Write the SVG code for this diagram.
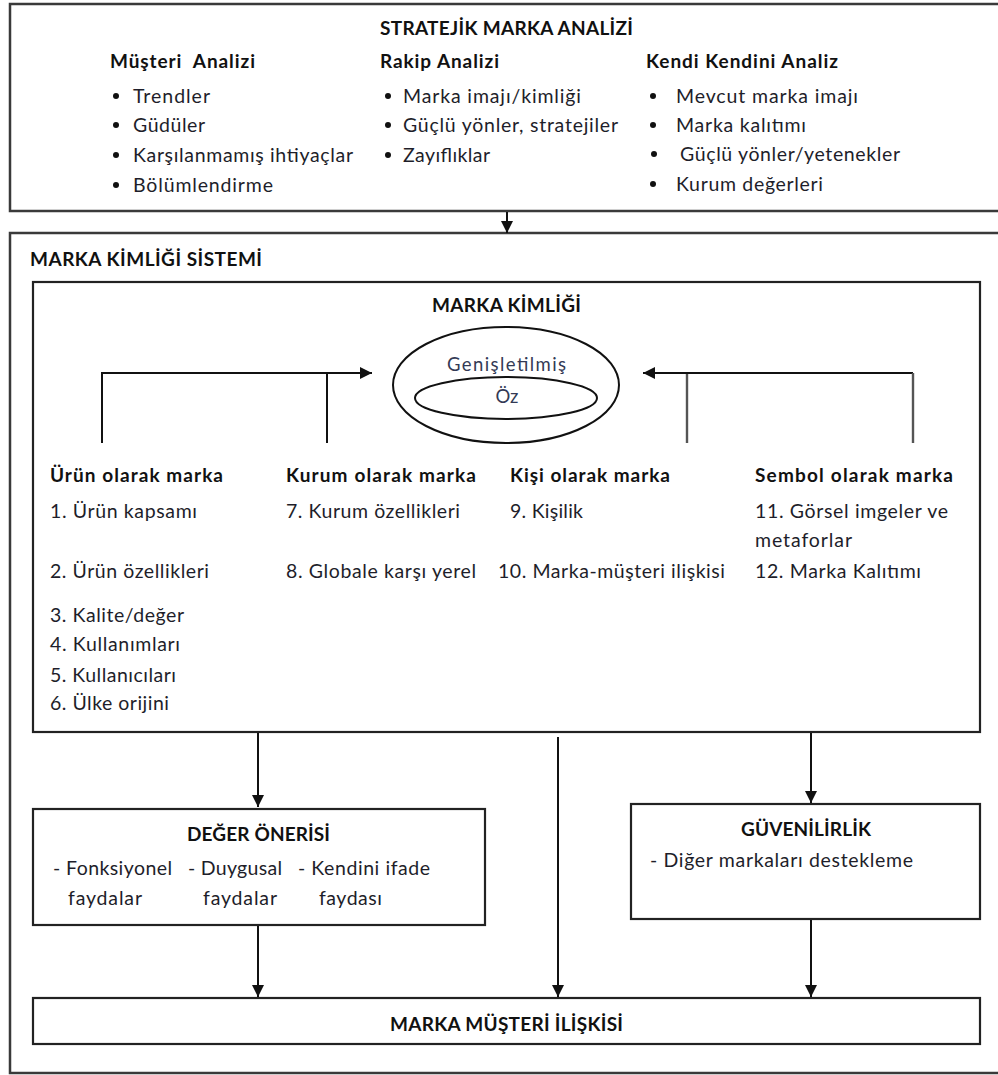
<svg xmlns="http://www.w3.org/2000/svg" width="998" height="1075" viewBox="0 0 998 1075">
  <style>
    .frame { fill: #fff; stroke: #3a3a3a; stroke-width: 2.5; }
    .box { fill: #fff; stroke: #222; stroke-width: 2.2; }
    .oval { fill: none; stroke: #111; stroke-width: 2; }
    .ln { fill: none; stroke: #111; stroke-width: 2; }
    .lng { fill: none; stroke: #555; stroke-width: 2.4; }
    text { font-family: Lato, "Open Sans", sans-serif; fill: #1e1e2a; }
    .h { font-weight: bold; font-size: 19px; fill: #111; }
    .t { font-size: 19.5px; }
    .s { font-size: 18.5px; fill: #333a55; }
    .bul { fill: #111; }
  </style>
  <defs>
    <marker id="arr" markerWidth="12" markerHeight="12" refX="12" refY="6" orient="auto" markerUnits="userSpaceOnUse">
      <path d="M0,0 L12,6 L0,12 Z" fill="#111"/>
    </marker>
  </defs>

  <rect width="998" height="1075" fill="#fff"/>

  <!-- Strategic brand analysis -->
  <g id="strategic-analysis">
    <rect class="frame" x="10" y="4" width="1000" height="207"/>
    <text class="h" x="380" y="35" textLength="253">STRATEJİK MARKA ANALİZİ</text>
    <text class="h" x="110" y="68" textLength="145" xml:space="preserve">Müşteri  Analizi</text>
    <text class="h" x="380" y="68" textLength="119">Rakip Analizi</text>
    <text class="h" x="646" y="68" textLength="192">Kendi Kendini Analiz</text>

    <circle class="bul" cx="116" cy="96" r="3"/>
    <circle class="bul" cx="116" cy="125" r="3"/>
    <circle class="bul" cx="116" cy="155" r="3"/>
    <circle class="bul" cx="116" cy="185" r="3"/>
    <text class="t" x="133" y="103" textLength="77">Trendler</text>
    <text class="t" x="133" y="132" textLength="72">Güdüler</text>
    <text class="t" x="133" y="162" textLength="220">Karşılanmamış ihtiyaçlar</text>
    <text class="t" x="133" y="192" textLength="140">Bölümlendirme</text>

    <circle class="bul" cx="388" cy="96" r="3"/>
    <circle class="bul" cx="388" cy="125" r="3"/>
    <circle class="bul" cx="388" cy="155" r="3"/>
    <text class="t" x="403" y="103" textLength="178">Marka imajı/kimliği</text>
    <text class="t" x="403" y="132" textLength="215">Güçlü yönler, stratejiler</text>
    <text class="t" x="403" y="162" textLength="87">Zayıflıklar</text>

    <circle class="bul" cx="653" cy="96" r="3"/>
    <circle class="bul" cx="653" cy="125" r="3"/>
    <circle class="bul" cx="654" cy="154" r="3"/>
    <circle class="bul" cx="653" cy="184" r="3"/>
    <text class="t" x="676" y="103" textLength="182">Mevcut marka imajı</text>
    <text class="t" x="676" y="132" textLength="130">Marka kalıtımı</text>
    <text class="t" x="680" y="161" textLength="220">Güçlü yönler/yetenekler</text>
    <text class="t" x="676" y="191" textLength="147">Kurum değerleri</text>
  </g>

  <!-- Brand identity system frame -->
  <g id="identity-system">
    <rect class="frame" x="10" y="233" width="1000" height="840"/>
    <text class="h" x="30" y="266" textLength="232">MARKA KİMLİĞİ SİSTEMİ</text>
  </g>

  <!-- Brand identity -->
  <g id="brand-identity">
    <rect class="box" x="33" y="282" width="947" height="450"/>
    <text class="h" x="432" y="312" textLength="149">MARKA KİMLİĞİ</text>
    <ellipse class="oval" cx="506" cy="385" rx="113" ry="58"/>
    <ellipse class="oval" cx="506" cy="398" rx="91" ry="21"/>
    <text class="s" x="447" y="371" textLength="119">Genişletilmiş</text>
    <text class="s" x="507" y="403" font-size="14" text-anchor="middle">Öz</text>

    <text class="h" x="50" y="482" textLength="173">Ürün olarak marka</text>
    <text class="h" x="286" y="482" textLength="190">Kurum olarak marka</text>
    <text class="h" x="510" y="482" textLength="160">Kişi olarak marka</text>
    <text class="h" x="755" y="482" textLength="198">Sembol olarak marka</text>

    <text class="t" x="50" y="518" textLength="147">1. Ürün kapsamı</text>
    <text class="t" x="50" y="578" textLength="159">2. Ürün özellikleri</text>
    <text class="t" x="50" y="622" textLength="134">3. Kalite/değer</text>
    <text class="t" x="50" y="651" textLength="130">4. Kullanımları</text>
    <text class="t" x="50" y="682" textLength="126">5. Kullanıcıları</text>
    <text class="t" x="50" y="710" textLength="119">6. Ülke orijini</text>

    <text class="t" x="286" y="518" textLength="174">7. Kurum özellikleri</text>
    <text class="t" x="286" y="578" textLength="190">8. Globale karşı yerel</text>

    <text class="t" x="510" y="518" textLength="73">9. Kişilik</text>
    <text class="t" x="498" y="578" textLength="227">10. Marka-müşteri ilişkisi</text>

    <text class="t" x="755" y="518" textLength="193">11. Görsel imgeler ve</text>
    <text class="t" x="755" y="547" textLength="97">metaforlar</text>
    <text class="t" x="755" y="578" textLength="166">12. Marka Kalıtımı</text>
  </g>

  <!-- Value proposition -->
  <g id="value-proposition">
    <rect class="box" x="33" y="809" width="452" height="116"/>
    <text class="h" x="187" y="841" textLength="143">DEĞER ÖNERİSİ</text>
    <text class="t" x="53" y="875" textLength="119">- Fonksiyonel</text>
    <text class="t" x="188" y="875" textLength="94">- Duygusal</text>
    <text class="t" x="298" y="875" textLength="132">- Kendini ifade</text>
    <text class="t" x="68" y="905" textLength="74">faydalar</text>
    <text class="t" x="203" y="905" textLength="74">faydalar</text>
    <text class="t" x="319" y="905" textLength="63">faydası</text>
  </g>

  <!-- Credibility -->
  <g id="credibility">
    <rect class="box" x="631" y="804" width="349" height="115"/>
    <text class="h" x="741" y="836" textLength="130">GÜVENİLİRLİK</text>
    <text class="t" x="650" y="867" textLength="263">- Diğer markaları destekleme</text>
  </g>

  <!-- Brand-customer relationship -->
  <g id="brand-customer">
    <rect class="box" x="33" y="998" width="947" height="46"/>
    <text class="h" x="390" y="1031" textLength="233">MARKA MÜŞTERİ İLİŞKİSİ</text>
  </g>

  <!-- Connectors -->
  <g id="connectors">
    <line class="ln" x1="507" y1="212" x2="507" y2="233" marker-end="url(#arr)"/>

    <polyline class="ln" points="102,443 102,373 372,373" marker-end="url(#arr)"/>
    <line class="ln" x1="327" y1="373" x2="327" y2="443"/>
    <polyline class="ln" points="913,373 643,373" marker-end="url(#arr)"/>
    <line class="lng" x1="913" y1="373" x2="913" y2="443"/>
    <line class="lng" x1="687" y1="374" x2="687" y2="443"/>

    <line class="ln" x1="258" y1="733" x2="258" y2="807" marker-end="url(#arr)"/>
    <line class="ln" x1="558" y1="737" x2="558" y2="997" marker-end="url(#arr)"/>
    <line class="ln" x1="811" y1="733" x2="811" y2="803" marker-end="url(#arr)"/>
    <line class="ln" x1="258" y1="926" x2="258" y2="997" marker-end="url(#arr)"/>
    <line class="ln" x1="811" y1="920" x2="811" y2="997" marker-end="url(#arr)"/>
  </g>
</svg>
